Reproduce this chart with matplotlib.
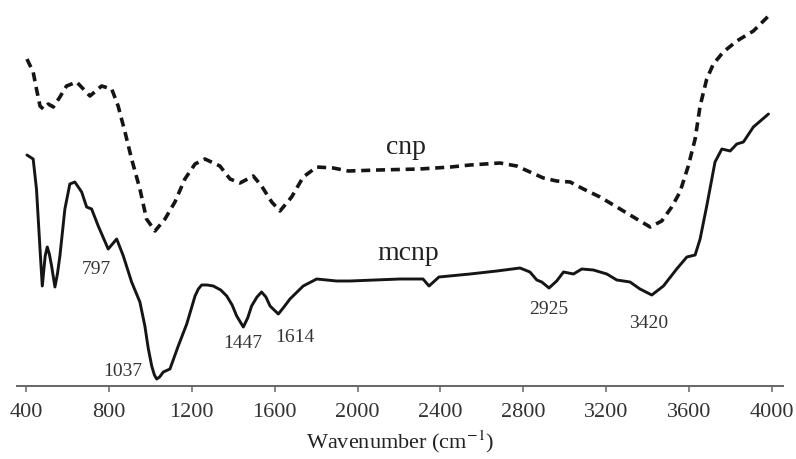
import numpy as np
import matplotlib
matplotlib.use("Agg")
import matplotlib.pyplot as plt

plt.rcParams['font.family'] = ['Liberation Serif', 'DejaVu Serif']
plt.rcParams['mathtext.fontset'] = 'stix'

# cnp spectrum (dashed): wavenumber (cm-1) and relative transmittance (arb. units)
cnp_w = [405, 435, 451, 468, 484, 508, 532, 564, 596, 645, 677, 709, 765, 814,
         845, 878, 910, 950, 982, 1023, 1071, 1119, 1167, 1216, 1264, 1336, 1385,
         1433, 1497, 1537, 1586, 1626, 1682, 1738, 1803, 1883, 1956, 2100, 2300,
         2450, 2543, 2688, 2768, 2832, 2897, 2961, 3026, 3090, 3170, 3251, 3347,
         3412, 3468, 3516, 3556, 3596, 3629, 3653, 3685, 3717, 3765, 3830, 3910,
         3983]
cnp_t = [327, 314, 297, 280, 277, 282, 279, 289, 300, 304, 297, 290, 300, 297,
         280, 254, 227, 197, 167, 155, 167, 184, 207, 222, 227, 220, 207,
         203, 210, 200, 184, 175, 189, 209, 219, 218, 215, 216, 217,
         219, 221, 223, 220, 214, 208, 205, 204, 197, 189, 179, 167,
         159, 165, 179, 194, 220, 247, 280, 307, 322, 334, 345, 355,
         370]

# mcnp spectrum (solid)
mcnp_w = [405, 435, 451, 468, 479, 493, 503, 513, 524, 540, 552, 564, 588, 612,
          636, 669, 693, 717, 749, 797, 838, 870, 910, 950, 974, 990, 1007, 1020,
          1031, 1045, 1063, 1095, 1135, 1176, 1216, 1232, 1248, 1275, 1304, 1340,
          1369, 1395, 1417, 1449, 1470, 1489, 1515, 1537, 1558, 1578, 1618, 1645,
          1674, 1738, 1803, 1899, 1964, 2205, 2316, 2345, 2393, 2543, 2672, 2784,
          2832, 2865, 2889, 2924, 2961, 2994, 3042, 3082, 3138, 3203, 3251, 3315,
          3363, 3420, 3476, 3540, 3589, 3629, 3653, 3685, 3725, 3758, 3798, 3830,
          3862, 3910, 3983]
mcnp_t = [231, 227, 197, 137, 100, 130, 139, 132, 120, 99, 112, 130, 177, 202,
          204, 194, 179, 177, 160, 137, 147, 130, 104, 84, 60, 38, 20, 11,
          7, 9, 14, 17, 40, 62, 90, 97, 101, 101, 100, 96,
          90, 81, 70, 59, 68, 80, 89, 94, 89, 80, 72, 79,
          87, 100, 107, 105, 105, 107, 107, 100, 109, 112, 115, 118,
          114, 106, 104, 98, 105, 114, 112, 117, 116, 112, 106, 104,
          97, 91, 100, 117, 129, 131, 147, 180, 224, 237, 235, 242,
          244, 259, 272]

peak_labels = ['797', '1037', '1447', '1614', '2925', '3420']
peak_w = [741, 866, 1447, 1698, 2924, 3404]
peak_t = [117, 15, 43, 49, 77, 63]

fig = plt.figure(figsize=(7.96, 4.6), dpi=100)
ax = fig.add_axes([17 / 796, 73 / 460, 766 / 796, 387 / 460])

ax.plot(cnp_w, cnp_t, color='#151515', lw=2.6, linestyle=(0, (2.5, 1.6)),
        solid_joinstyle='round')
ax.plot(mcnp_w, mcnp_t, color='#151515', lw=2.1, solid_joinstyle='round',
        solid_capstyle='round')

ax.set_xlim(357, 4053)
ax.set_ylim(0, 387)

ax.text(2234, 240, 'cnp', fontsize=20, color='#222222', ha='center', va='center')
ax.text(2244, 133, 'mcnp', fontsize=20, color='#222222', ha='center', va='center')
for lab, x, y in zip(peak_labels, peak_w, peak_t):
    ax.text(x, y, lab, fontsize=14, color='#333333', ha='center', va='center')

for s in ['top', 'right', 'left']:
    ax.spines[s].set_visible(False)
ax.spines['bottom'].set_color('#666666')
ax.spines['bottom'].set_linewidth(1.4)
ax.set_yticks([])
ax.set_xticks(np.arange(400, 4001, 400))
ax.tick_params(axis='x', direction='out', length=4.5, width=1.1, color='#666666',
               labelsize=16, labelcolor='#333333', pad=7)
ax.set_xlabel('Wavenumber (cm$^{-1}$)', fontsize=16, color='#222222', labelpad=5)

fig.savefig('out.png', dpi=100)
